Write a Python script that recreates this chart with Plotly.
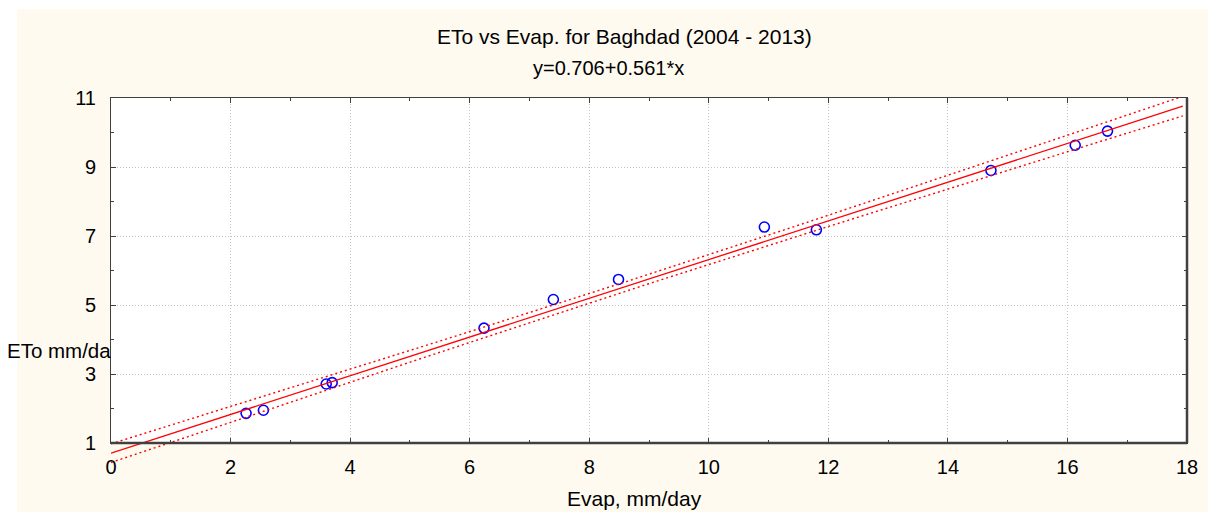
import numpy as np
import plotly.graph_objects as go

# ---------------- data ----------------
evap = [2.26, 2.55, 3.60, 3.70, 6.24, 7.40, 8.49, 10.93, 11.80, 14.72, 16.13, 16.67]
eto = [1.86, 1.95, 2.71, 2.75, 4.33, 5.16, 5.74, 7.26, 7.18, 8.90, 9.63, 10.04]
intercept = 0.706
slope = 0.561
fit_x_end = 17.93
t_crit = 2.228  # t(0.975, df=10)

title_text = "ETo vs Evap. for Baghdad (2004 - 2013)"
equation_text = "y=0.706+0.561*x"
x_title = "Evap, mm/day"
y_title = "ETo mm/day"
x_ticks = [0, 2, 4, 6, 8, 10, 12, 14, 16, 18]
y_ticks = [1, 3, 5, 7, 9, 11]

# ---------------- fitted line and 95% confidence band ----------------
xv = np.array(evap)
yv = np.array(eto)
n = len(xv)
res = yv - (intercept + slope * xv)
s = np.sqrt(np.sum(res ** 2) / (n - 2))
xbar = xv.mean()
sxx = np.sum((xv - xbar) ** 2)
xf = np.linspace(0, fit_x_end, 300)
yf = intercept + slope * xf
half = t_crit * s * np.sqrt(1.0 / n + (xf - xbar) ** 2 / sxx)

# ---------------- layout geometry (screen pixels; page has an 8px body margin) ----------------
OFF = 8
W, H = 1216, 512
PL, PR = 111, 1187        # plot frame left / right (screen)
PT, PB = 98, 443          # plot frame top / bottom (screen)
AREA_B = 472              # bottom of the overflow area (screen)
y_lo, y_hi = 1, 11
x_lo, x_hi = 0, 18

m_l = 0
m_r = W - (PR - OFF)
m_t = PT - OFF
m_b = H - (AREA_B - OFF)
area_w = W - m_l - m_r
area_h = H - m_t - m_b


def px_x(sx):
    return (sx - OFF - m_l) / area_w


def px_y(sy):
    return (H - m_b - (sy - OFF)) / area_h


x_dom = [px_x(PL), 1]
y_dom = [px_y(PB), 1]
y2_lo = y_hi - (y_hi - y_lo) * (AREA_B - PT) / (PB - PT)

FONT = "Arial, Liberation Sans, sans-serif"
CREAM = "#FEFAF0"

fig = go.Figure()

# markers on the main axes
fig.add_trace(go.Scatter(
    x=evap, y=eto, mode="markers",
    marker=dict(symbol="circle-open", size=10, color="#0000FF",
                line=dict(width=1.6, color="#0000FF")),
    xaxis="x", yaxis="y", showlegend=False, hoverinfo="x+y"))

# fitted line and confidence limits on overflow axes (they run under the frame at x=0)
dot = "2px,3px"
fig.add_trace(go.Scatter(x=xf, y=yf + half, mode="lines",
                         line=dict(color="#FF0000", width=1.4, dash=dot),
                         xaxis="x2", yaxis="y2", showlegend=False, hoverinfo="skip"))
fig.add_trace(go.Scatter(x=xf, y=yf - half, mode="lines",
                         line=dict(color="#FF0000", width=1.4, dash=dot),
                         xaxis="x2", yaxis="y2", showlegend=False, hoverinfo="skip"))
fig.add_trace(go.Scatter(x=xf, y=yf, mode="lines",
                         line=dict(color="#FF0000", width=1.3),
                         xaxis="x2", yaxis="y2", showlegend=False, hoverinfo="skip"))

# y-axis title, clipped by the plot frame as in the reference
fig.add_trace(go.Scatter(x=[-1], y=[3.6], mode="text", text=[y_title],
                         textposition="middle right", cliponaxis=True,
                         textfont=dict(family=FONT, size=20.5, color="#000000"),
                         xaxis="x3", yaxis="y3", showlegend=False, hoverinfo="skip"))

axis_common = dict(
    showline=True, mirror="allticks", linecolor="#404040", linewidth=1,
    ticks="inside", ticklen=5, tickcolor="#404040", tickwidth=1,
    showgrid=True, gridcolor="#C4C4C4", griddash="1px,2px", gridwidth=1,
    zeroline=False, automargin=False,
    tickfont=dict(family=FONT, size=20, color="#000000"),
    minor=dict(ticks="inside", ticklen=3, tickcolor="#404040", dtick=1, showgrid=False),
)

fig.update_layout(
    width=W, height=H,
    margin=dict(l=m_l, r=m_r, t=m_t, b=m_b, pad=0),
    paper_bgcolor="#FFFFFF",
    plot_bgcolor="rgba(0,0,0,0)",
    xaxis=dict(domain=x_dom, range=[x_lo, x_hi], tickvals=x_ticks, anchor="y",
               ticklabelstandoff=6, **axis_common),
    yaxis=dict(domain=y_dom, range=[y_lo, y_hi], tickvals=y_ticks, anchor="x",
               ticklabelstandoff=10, **axis_common),
    xaxis2=dict(domain=x_dom, range=[x_lo, x_hi], anchor="y2", visible=False),
    yaxis2=dict(domain=[0, 1], range=[y2_lo, y_hi], anchor="x2", visible=False),
    xaxis3=dict(domain=[0, x_dom[0]], range=[0, PL - OFF], anchor="y3", visible=False),
    yaxis3=dict(domain=y_dom, range=[y_lo, y_hi], anchor="x3", visible=False),
    showlegend=False,
    shapes=[
        dict(type="rect", xref="paper", yref="paper", layer="below",
             x0=px_x(17), x1=px_x(W + 20), y0=px_y(H + 20), y1=px_y(9),
             fillcolor=CREAM, line=dict(width=0)),
        dict(type="rect", xref="paper", yref="paper", layer="below",
             x0=x_dom[0], x1=1, y0=y_dom[0], y1=1,
             fillcolor="#FFFFFF", line=dict(width=0)),
        dict(type="line", xref="paper", yref="paper", layer="above",
             x0=1, x1=1, y0=y_dom[0], y1=1,
             line=dict(color="#404040", width=2.5)),
        dict(type="line", xref="paper", yref="paper", layer="above",
             x0=x_dom[0], x1=1, y0=y_dom[0], y1=y_dom[0],
             line=dict(color="#404040", width=2.5)),
    ],
    annotations=[
        dict(text=title_text, xref="paper", yref="paper", x=px_x(624), y=px_y(36),
             xanchor="center", yanchor="middle", showarrow=False,
             font=dict(family=FONT, size=21, color="#000000")),
        dict(text=equation_text, xref="paper", yref="paper", x=px_x(608), y=px_y(68),
             xanchor="center", yanchor="middle", showarrow=False,
             font=dict(family=FONT, size=20, color="#000000")),
        dict(text=x_title, xref="paper", yref="paper", x=px_x(634), y=px_y(498),
             xanchor="center", yanchor="middle", showarrow=False,
             font=dict(family=FONT, size=21, color="#000000")),
    ],
)

fig.write_html("out.html")
